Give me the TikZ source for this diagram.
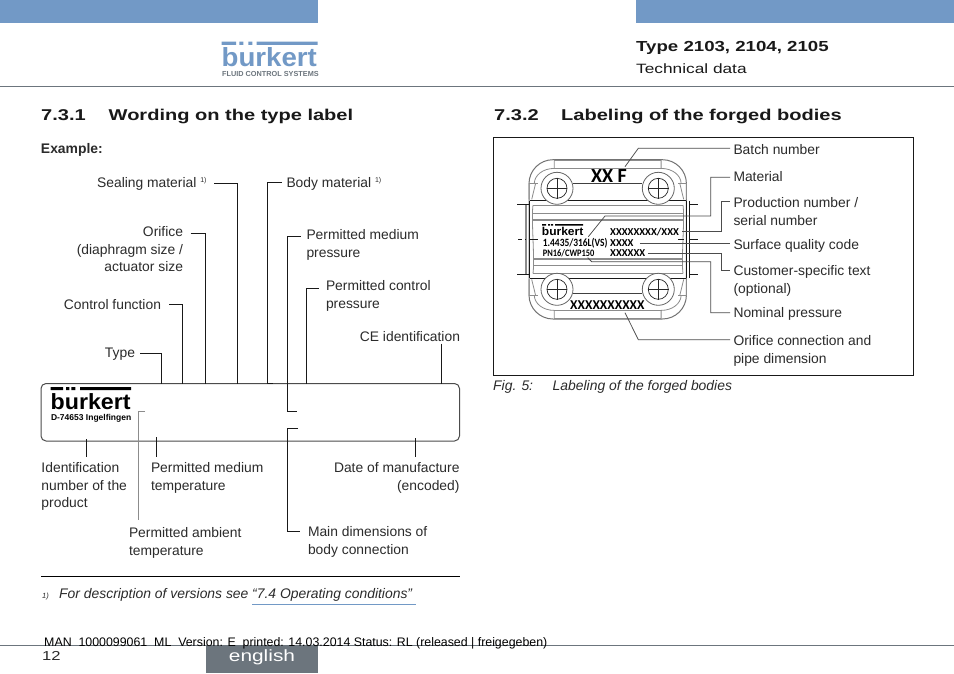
\documentclass[tikz,border=0pt]{standalone}
\usepackage{fontspec}
\setmainfont{Liberation Sans}
\newfontfamily\widefont[FakeStretch=1.28]{Liberation Sans}
\newfontfamily\logofont[FakeStretch=1.055]{Liberation Sans}
\newfontfamily\platefont{Carlito}
\newfontfamily\platenarrow[FakeStretch=0.85]{Carlito}
\usepackage{tikz}
\usetikzlibrary{arrows.meta,positioning,calc}
\definecolor{bublue}{HTML}{7299C6}
\definecolor{bugray}{HTML}{6C757D}
\definecolor{butext}{HTML}{2B2B2B}
\begin{document}
\begin{tikzpicture}[x=1pt,y=-1pt,
    lbl/.style={font=\fontsize{13.85}{17.7}\selectfont, text=butext, inner sep=0pt, outer sep=0pt, align=left, anchor=north west},
    lblr/.style={lbl, align=right, anchor=north east},
    head/.style={font=\widefont\bfseries\fontsize{15.65}{17}\selectfont, text=black!90, inner sep=0pt, anchor=base west},
    ital/.style={font=\itshape\fontsize{13.9}{16}\selectfont, text=butext, inner sep=0pt, anchor=base west},
    logotext/.style={font=\logofont\bfseries, inner sep=0pt, anchor=base west},
    ldr/.style={draw=black!90, line width=0.75pt},
    pldr/.style={draw=black!70, line width=0.75pt},
    plate/.style={font=\platefont\bfseries\fontsize{10.6}{11}\selectfont, inner sep=0pt, anchor=base west},
    thin/.style={draw=black!45, line width=0.8pt},
    dark/.style={draw=black!90, line width=0.8pt},
    screw/.style={circle, draw=black!85, line width=0.7pt, minimum size=20pt, inner sep=0pt},
    screwo/.style={circle, draw=black!60, line width=0.8pt, minimum size=32pt, inner sep=0pt}
]
\useasboundingbox (0,0) rectangle (954,673);
\fill[white] (0,0) rectangle (954,673);
\fill[bublue] (0,0) rectangle (318,23);
\fill[bublue] (636,0) rectangle (954,23);
\draw[bugray, line width=1pt] (0,86) -- (954,86);
\node[logotext, font=\logofont\bfseries\fontsize{26.2}{28}\selectfont, text=bublue] (toplogo) at (221.5,66.5) {bürkert};
\fill[white] (238.4,46.5) rectangle (255.3,51.8);
\fill[bublue] (221.7,41.7) rectangle (236,44.8) (239.3,41.7) rectangle (243.3,44.8) (248.3,41.7) rectangle (252.3,44.8) (256.7,41.7) rectangle (317.5,44.8);
\node[font=\bfseries\fontsize{7.3}{8}\selectfont, text=bugray, inner sep=0pt, anchor=base west] (topsub) at (222,76.5) {FLUID CONTROL SYSTEMS};
\node[head, font=\widefont\bfseries\fontsize{14.57}{17}\selectfont] (doctype) at (636,51) {Type 2103, 2104, 2105};
\node[head, font=\widefont\fontsize{13.5}{17}\selectfont] (docpart) at (636,73) {Technical data};

\node[head] (numa) at (41,120.5) {7.3.1};
\node[head] (titlea) at (108.5,120.5) {Wording on the type label};
\node[head] (numb) at (494,120.5) {7.3.2};
\node[head] (titleb) at (561,120.5) {Labeling of the forged bodies};
\node[lbl, font=\bfseries\fontsize{13.9}{15}\selectfont, anchor=base west] (example) at (41,153.5) {Example:};

\draw[black!70, line width=1pt, rounded corners=5pt] (41,383.5) rectangle (459.5,441);
\node[logotext, font=\logofont\bfseries\fontsize{22}{23}\selectfont] (logo) at (50.5,409) {bürkert};
\fill[white] (64.7,391) rectangle (78.9,397);
\fill[black] (50.7,387) rectangle (63,390) (66,387) rectangle (69.3,390) (71.3,387) rectangle (75.3,390) (80,387) rectangle (131,390);
\node[font=\bfseries\fontsize{8.5}{9}\selectfont, inner sep=0pt, anchor=base west] (logosub) at (50.8,420) {D-74653 Ingelfingen};

\node[lblr] (seal) at (207,177.5) {Sealing material \textsuperscript{\fontsize{7}{8}\selectfont 1)}};
\node[lblr] (orifice) at (183,226.5) {Orifice\\(diaphragm size /\\actuator size};
\node[lblr] (control) at (161,299) {Control function};
\node[lblr] (type) at (135,347.5) {Type};
\node[lbl] (bodymat) at (286.5,177.5) {Body material \textsuperscript{\fontsize{7}{8}\selectfont 1)}};
\node[lbl] (medpress) at (306.5,229.5) {Permitted medium\\pressure};
\node[lbl] (ctrlpress) at (326,280.5) {Permitted control\\pressure};
\node[lblr] (ce) at (460,331.5) {CE identification};
\node[lbl] (ident) at (41.5,462.5) {Identification\\number of the\\product};
\node[lbl] (medtemp) at (151,462.5) {Permitted medium\\temperature};
\node[lblr] (date) at (459.5,462.5) {Date of manufacture\\(encoded)};
\node[lbl] (ambient) at (129,527.5) {Permitted ambient\\temperature};
\node[lbl] (maindim) at (308,526.5) {Main dimensions of\\body connection};

\coordinate (sealend) at (237.5,383.5);
\coordinate (orificeend) at (205.5,383.5);
\coordinate (controlend) at (182.5,383.5);
\coordinate (typeend) at (161.5,383.5);
\coordinate (ctrlend) at (306.5,383.5);
\coordinate (ceend) at (441,383.5);
\coordinate (bodya) at (267.5,383.5);
\coordinate (bodyb) at (273,383.5);
\coordinate (meda) at (287.5,411.5);
\coordinate (medb) at (297,411.5);
\coordinate (maina) at (287.5,428.5);
\coordinate (mainb) at (298,428.5);
\coordinate (amba) at (138.5,411.5);
\coordinate (ambb) at (145,411.5);
\coordinate (identend) at (86.5,439);
\coordinate (medtempend) at (156.5,437);
\coordinate (dateend) at (415,438);
\draw[ldr] ([xshift=7pt]seal.east |- 0,183.3) -| (sealend);
\draw[ldr] ([xshift=7.5pt]orifice.north east |- 0,233.3) -| (orificeend);
\draw[ldr] ([xshift=8pt]control.east |- 0,304.7) -| (controlend);
\draw[ldr] ([xshift=5pt]type.east |- 0,353.3) -| (typeend);
\draw[ldr] ([xshift=-5pt]bodymat.west |- 0,182.7) -| (bodya) -- (bodyb);
\draw[ldr] ([xshift=-6pt]medpress.north west |- 0,236) -| (meda) -- (medb);
\draw[ldr] ([xshift=-7pt]ctrlpress.north west |- 0,288.3) -| (ctrlend);
\draw[ldr] ([yshift=-2pt]ceend |- ce.south) -- (ceend);
\draw[ldr] (mainb) -- (maina) |- ([xshift=-8pt]maindim.north west |- 0,531.5);
\draw[thin, line width=0.9pt] (ambb) -- (amba) -- ([yshift=8pt]amba |- ambient.north);
\draw[ldr] (identend) -- ([yshift=5.5pt]identend |- ident.north);
\draw[ldr] (medtempend) -- ([yshift=5.5pt]medtempend |- medtemp.north);
\draw[ldr] (dateend) -- ([yshift=5.5pt]dateend |- date.north);

\draw[black, line width=0.9pt] (41,576) -- (459.5,576);
\node[ital, font=\itshape\fontsize{7.5}{8}\selectfont] (fnmark) at (42,598) {1)};
\node[ital] (fntext) at (59,598) {For description of versions see};
\node[ital] (fnlink) at (252,598) {“7.4 Operating conditions”};
\draw[bublue, line width=1pt] (fnlink.south west) ++(0,3) -- ++(164,0);

\draw[black!90, line width=0.9pt] (493,137.5) rectangle (913,375);
\node[ital] (figno) at (493,390) {Fig. 5:};
\node[ital] (figtext) at (552.5,390) {Labeling of the forged bodies};

\draw[draw=black!55, line width=1pt, rounded corners=24pt] (529,159.7) rectangle (686.4,319);
\foreach \sx in {-1,1} {
  \foreach \sy in {-1,1} {
    \begin{scope}[shift={(607.7,239.4)}, xscale=\sx, yscale=\sy]
      \draw[thin] (53.4,-79.7) -- (53.4,-71) .. controls (65,-71) and (73,-64) .. (73.4,-56.4);
      \draw[thin] (78.7,-56.4) -- (70,-56.4);
      \draw[thin] (72,-56.4) -- (76,-40) (78.7,-56.4) -- (78.7,-40);
    \end{scope}
  }
}
\draw[thin, line width=1.2pt] (554.3,160.5) -- (661,160.5) (554.3,318.2) -- (661,318.2);
\draw[thin] (554.3,168.3) -- (661,168.3) (554.3,310) -- (661,310);
\draw[black!75, line width=0.8pt] (573,183.5) -- (642,183.5) (573,293.5) -- (642,293.5);
\draw[dark] (530,200.7) -- (686,200.7) (530,278.3) -- (686,278.3);
\draw[dark] (689.3,200.7) -- (689.3,278.3) (686,200.7) -- (686,278.3);
\draw[thin, line width=1.1pt] (526,204) -- (526,274);
\draw[dark] (529.5,201) -- (529.5,278);
\draw[thin] (533,205) -- (683,205) (533,273.5) -- (683,273.5) (533,265) -- (683,265) (533,213.5) -- (683,213.5);
\draw[thin, line width=1.1pt] (533,220) -- (683,220) (533,259) -- (683,259);
\draw[thin] (533,205) .. controls (531,220) and (535,258) .. (533,273.5) (683,205) .. controls (685,220) and (681,258) .. (683,273.5);
\draw[dark] (517,204) -- (529,204) (517,274) -- (529,274) (690,204) -- (698,204) (690,274) -- (698,274);
\draw[dark] (518,239.5) -- (522,239.5) (525,239.5) -- (526,239.5) (530,239.5) -- (538,239.5) (678,239.5) -- (684,239.5) (690,239.5) -- (698,239.5);
\foreach \n/\x/\y in {a/557/188.3, b/658.3/188.3, c/557/289.3, d/658.3/289.3} {
  \node[screwo, fill=white] (out\n) at (\x,\y) {};
  \node[screw] (hole\n) at (\x,\y) {};
  \draw[black!85, line width=0.6pt] (hole\n.north) -- (hole\n.south) (hole\n.west) -- (hole\n.east);
}
\node[font=\platefont\bfseries\fontsize{20}{22}\selectfont, inner sep=0pt] (xxf) at (609,176.5) {XX F};
\node[logotext, font=\logofont\bfseries\fontsize{11.4}{12}\selectfont] (platelogo) at (541.7,235.2) {bürkert};
\fill[white] (549,226) rectangle (556.4,228.8);
\fill[black] (542,224.2) rectangle (546,225.6) (548,224.2) rectangle (550,225.6) (551,224.2) rectangle (553,225.6) (555,224.2) rectangle (583,225.6);
\node[plate, font=\platenarrow\bfseries\fontsize{11.1}{12}\selectfont] (alloy) at (542.7,246.5) {1.4435/316L(VS)};
\node[plate, font=\platenarrow\bfseries\fontsize{9.9}{11}\selectfont] (rating) at (542.7,256) {PN16/CWP150};
\node[plate] (serial) at (610,235.5) {XXXXXXXX/XXX};
\node[plate] (finish) at (610,246.5) {XXXX};
\node[plate] (custom) at (610,256) {XXXXXX};
\node[plate, font=\platefont\bfseries\fontsize{13.5}{14}\selectfont] (orif) at (570,309) {XXXXXXXXXX};

\node[lbl] (batch) at (733.5,144.5) {Batch number};
\node[lbl] (material) at (733.5,171.5) {Material};
\node[lbl] (prodnum) at (733.5,197.5) {Production number /\\serial number};
\node[lbl] (surface) at (733.5,239.5) {Surface quality code};
\node[lbl] (customer) at (733.5,265.5) {Customer-specific text\\(optional)};
\node[lbl] (nominal) at (733.5,307.5) {Nominal pressure};
\node[lbl] (conn) at (733.5,335.5) {Orifice connection and\\pipe dimension};
\coordinate (batchend) at (625,166.7);
\coordinate (matend) at (588.3,236.7);
\coordinate (nomend) at (587.7,257.7);
\coordinate (connend) at (625,312.7);
\draw[pldr] (batchend) -- (638.3,148.3) -- ([xshift=-3.5pt]batch.west |- 0,148.3);
\draw[pldr] (matend) -- (605,216) -| (710.7,177.3) -- ([xshift=-3.5pt]material.west |- 0,177.3);
\draw[pldr] ([xshift=3pt]serial.east |- 0,231) -- (721.7,231) |- ([xshift=-3.5pt]prodnum.north west |- 0,201.7);
\draw[pldr] ([xshift=6pt]finish.east |- 0,243.3) -- ([xshift=-3.5pt]surface.west |- 0,243.3);
\draw[pldr] ([xshift=3pt]custom.east |- 0,253.7) -- (721.7,253.7) |- ([xshift=-3.5pt]customer.north west |- 0,270);
\draw[pldr] (nomend) -- (591.7,261.7) -| (710.7,312.7) -- ([xshift=-3.5pt]nominal.west |- 0,312.7);
\draw[pldr] (connend) -- (638.3,339.7) -- ([xshift=-3.5pt]conn.north west |- 0,339.7);

\draw[bugray, line width=1pt] (0,645.5) -- (954,645.5);
\fill[bugray] (206,645) rectangle (318,673);
\node[font=\fontsize{12.37}{14}\selectfont, inner sep=0pt, anchor=base west] (stamp) at (44,646.5) {MAN\ \ 1000099061\ \ ML\ \ Version: E\ \ printed: 14.03.2014 Status: RL (released | freigegeben)};
\node[font=\widefont\fontsize{13}{16}\selectfont, text=butext, inner sep=0pt, anchor=base west] (page) at (42,660) {12};
\node[font=\widefont\fontsize{16.3}{18}\selectfont, text=white, inner sep=0pt, anchor=base] (lang) at (262,661) {english};
\end{tikzpicture}
\end{document}
